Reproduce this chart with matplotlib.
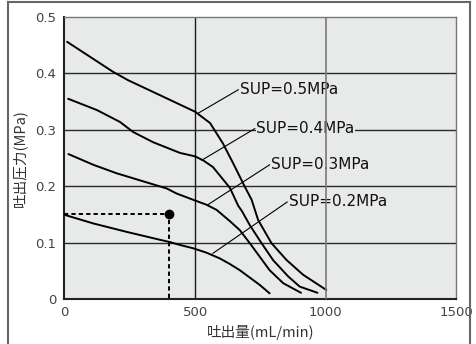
import matplotlib
matplotlib.use("Agg")
import matplotlib.pyplot as plt
from matplotlib.lines import Line2D

# ---- data ----
x05 = [10, 185, 243, 390, 500, 557, 606, 645, 690, 716, 741, 792, 850, 913, 1002]
y05 = [0.456, 0.403, 0.388, 0.356, 0.332, 0.312, 0.276, 0.241, 0.199, 0.176, 0.140, 0.099, 0.069, 0.043, 0.016]

x04 = [14, 124, 212, 263, 339, 442, 499, 530, 568, 633, 664, 680, 709, 754, 798, 856, 900, 968]
y04 = [0.355, 0.335, 0.314, 0.296, 0.278, 0.259, 0.253, 0.246, 0.234, 0.197, 0.166, 0.155, 0.131, 0.099, 0.069, 0.040, 0.022, 0.011]

x03 = [15, 110, 199, 327, 391, 429, 492, 544, 582, 633, 671, 709, 747, 785, 837, 905]
y03 = [0.257, 0.238, 0.223, 0.205, 0.196, 0.187, 0.176, 0.167, 0.158, 0.138, 0.122, 0.099, 0.075, 0.051, 0.028, 0.011]

x02 = [2, 110, 238, 365, 403, 440, 492, 544, 594, 633, 671, 709, 747, 785]
y02 = [0.149, 0.134, 0.119, 0.105, 0.101, 0.096, 0.090, 0.082, 0.072, 0.062, 0.051, 0.038, 0.025, 0.010]

labels = ["SUP=0.5MPa", "SUP=0.4MPa", "SUP=0.3MPa", "SUP=0.2MPa"]
leader_start = [(510, 0.329), (525, 0.246), (548, 0.167), (568, 0.081)]
label_pos = [(665, 0.371), (728, 0.302), (785, 0.238), (852, 0.172)]

op_x = [0, 400, 400]
op_y = [0.15, 0.15, 0.0]

xticks = [0, 500, 1000, 1500]
xticklabels = ["0", "500", "1000", "1500"]
yticks = [0, 0.1, 0.2, 0.3, 0.4, 0.5]
yticklabels = ["0", "0.1", "0.2", "0.3", "0.4", "0.5"]

# ---- figure ----
fig = plt.figure(figsize=(4.77, 3.44), dpi=100)
ax = fig.add_axes([64.5 / 477, 1 - 299 / 344, (456.5 - 64.5) / 477, (299 - 17) / 344])
bg = "#e8e9e9"
ax.set_facecolor(bg)
ax.set_xlim(0, 1500)
ax.set_ylim(0, 0.5)

# grid lines
for yv in [0.1, 0.2, 0.3, 0.4]:
    ax.axhline(yv, color="#2a2a2a", lw=1.0, zorder=1)
ax.axvline(500, color="#1a1a1a", lw=1.0, zorder=1)
ax.axvline(1000, color="#7a7a7a", lw=1.2, zorder=6)

for xs, ys in [(x05, y05), (x04, y04), (x03, y03), (x02, y02)]:
    ax.plot(xs, ys, color="black", lw=1.4, zorder=4, solid_capstyle="round")

# operating point
ax.plot(op_x, op_y, color="black", lw=1.4, ls=(0, (2.2, 1.6)), zorder=4)
ax.plot([op_x[1]], [op_y[1]], "o", color="black", ms=6, zorder=5)

# labels with leader lines
for lab, (sx, sy), (tx, ty) in zip(labels, leader_start, label_pos):
    ax.plot([sx, tx], [sy, ty], color="black", lw=0.8, zorder=3)
    ax.text(tx + 6, ty, lab, fontsize=11, va="center", ha="left", color="#111111",
            family="DejaVu Sans", zorder=5,
            bbox=dict(boxstyle="square,pad=0.05", fc=bg, ec="none"))

# spines
for s in ["left", "bottom"]:
    ax.spines[s].set_color("#222222")
    ax.spines[s].set_linewidth(1.5)
for s in ["top", "right"]:
    ax.spines[s].set_color("#777777")
    ax.spines[s].set_linewidth(1.0)

ax.set_xticks(xticks)
ax.set_xticklabels(xticklabels)
ax.set_yticks(yticks)
ax.set_yticklabels(yticklabels)
ax.tick_params(length=0, labelsize=9.5, labelcolor="#444444")
ax.tick_params(axis="x", pad=5)
ax.tick_params(axis="y", pad=6)

ax.set_xlabel("吐出量(mL/min)", fontsize=10.5, family=["Noto Sans CJK JP", "DejaVu Sans"],
              color="#333333", labelpad=4)
ax.set_ylabel("吐出圧力(MPa)", fontsize=10.5, family=["Noto Sans CJK JP", "DejaVu Sans"],
              color="#333333", labelpad=6)

# outer frame (left, top, right)
fc = "#666666"
fig.add_artist(Line2D([8.5 / 477, 8.5 / 477], [0, 1 - 1.5 / 344], transform=fig.transFigure, color=fc, lw=1.5))
fig.add_artist(Line2D([8.5 / 477, 470.5 / 477], [1 - 1.5 / 344, 1 - 1.5 / 344], transform=fig.transFigure, color=fc, lw=1.5))
fig.add_artist(Line2D([470.5 / 477, 470.5 / 477], [0, 1 - 1.5 / 344], transform=fig.transFigure, color=fc, lw=1.5))

fig.savefig("out.png", dpi=100, facecolor="white")
